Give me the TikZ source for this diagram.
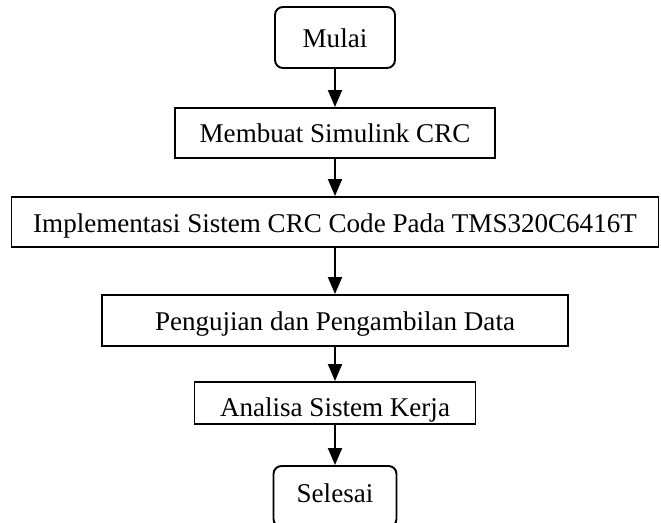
\documentclass[tikz,border=0pt]{standalone}
\usepackage{fontspec}
\setmainfont{Liberation Serif}
\usetikzlibrary{arrows.meta, positioning}

\begin{document}
\begin{tikzpicture}[
    >={Triangle[length=0.34cm, width=0.28cm]},
    font=\fontsize{15.4}{18}\selectfont,
    term/.style={draw, line width=1.1pt, rounded corners=0.16cm, rectangle, inner sep=0pt, align=center},
    proc/.style={draw, line width=1.1pt, rectangle, inner sep=0pt, align=center},
    arr/.style={->, line width=1.1pt}
]
\useasboundingbox (0,0) rectangle (13.22,-10.44);

\node[term, minimum width=2.4cm, text height=0.80cm, text depth=0.42cm] (mulai) at (6.7,-0.75) {Mulai};
\node[proc, minimum width=6.4cm, text height=0.68cm, text depth=0.32cm] (simulink) at (6.7,-2.66) {Membuat Simulink CRC};
\node[proc, minimum width=12.94cm, text height=0.70cm, text depth=0.30cm] (implementasi) at (6.7,-4.44) {Implementasi Sistem CRC Code Pada TMS320C6416T};
\node[proc, minimum width=9.32cm, text height=0.70cm, text depth=0.32cm] (pengujian) at (6.7,-6.41) {Pengujian dan Pengambilan Data};
\node[proc, minimum width=5.62cm, text height=0.68cm, text depth=0.16cm] (analisa) at (6.7,-8.06) {Analisa Sistem Kerja};
\node[term, minimum width=2.46cm, text height=0.72cm, text depth=0.50cm] (selesai) at (6.7,-9.93) {Selesai};

\draw[arr] (mulai) -- (simulink);
\draw[arr] (simulink) -- (implementasi);
\draw[arr] (implementasi) -- (pengujian);
\draw[arr] (pengujian) -- (analisa);
\draw[arr] (analisa) -- (selesai);

\end{tikzpicture}
\end{document}
